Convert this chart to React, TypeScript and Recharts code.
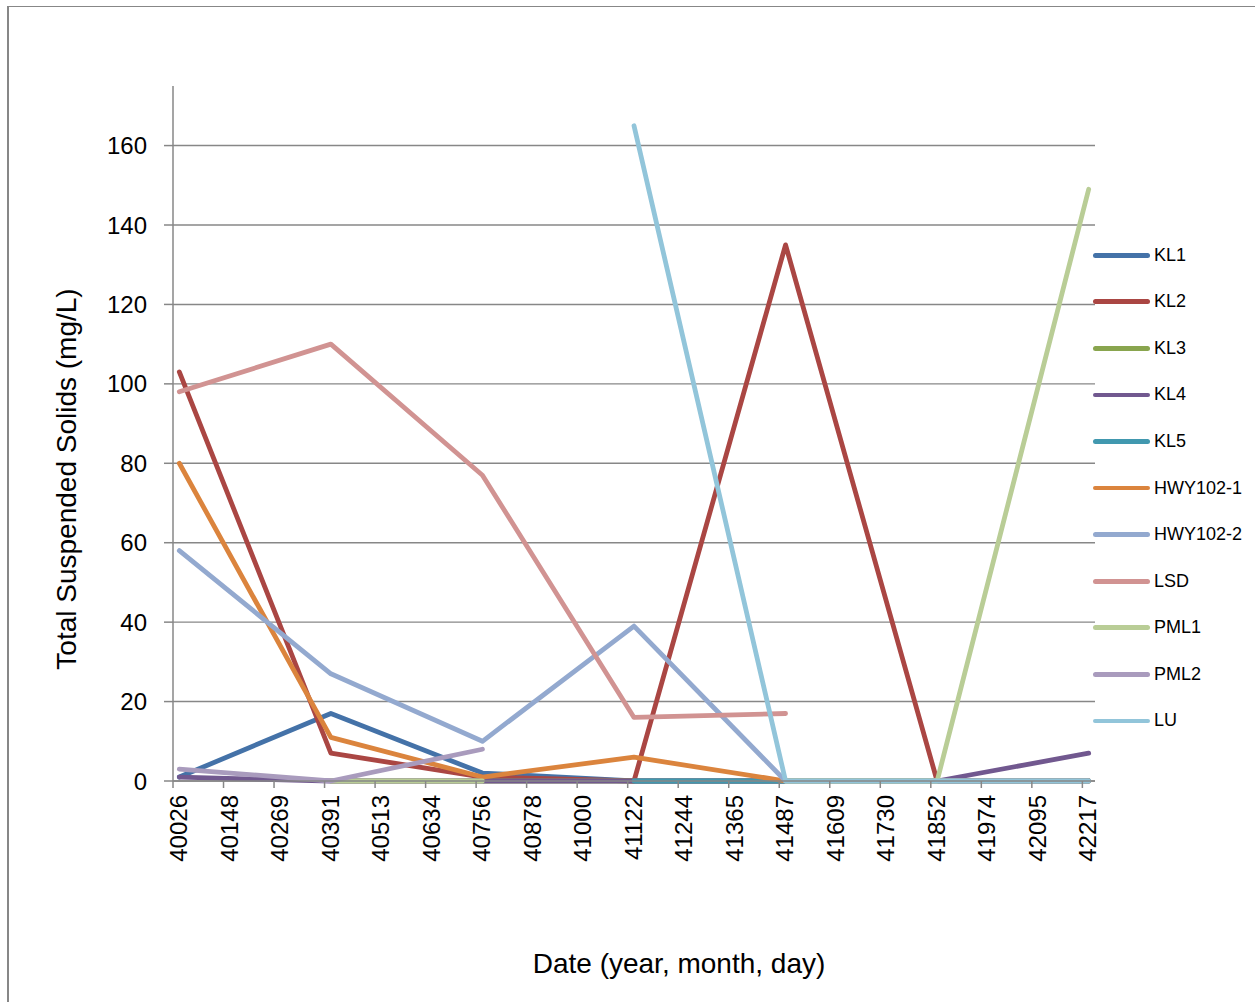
import React from 'react';
import { LineChart, Line, XAxis, YAxis, CartesianGrid } from 'recharts';

// Sampling dates as spreadsheet date serials
const sampleDates = [40026, 40391, 40756, 41122, 41487, 41852, 42217];

// Date axis tick labels (first day of every fourth month)
const dateTickLabels = [
  40026, 40148, 40269, 40391, 40513, 40634, 40756, 40878, 41000, 41122,
  41244, 41365, 41487, 41609, 41730, 41852, 41974, 42095, 42217,
];

const tssTicks = [0, 20, 40, 60, 80, 100, 120, 140, 160];

// Total suspended solids (mg/L) per station, one value per sampling date
const kl1 = [1, 17, 2, 0, 0, 0, 0];
const kl2 = [103, 7, 1, 0, 135, 0, 0];
const kl3 = [null, 0, 0, 0, 0, 0, 0];
const kl4 = [1, 0, 0, 0, 0, 0, 7];
const kl5 = [null, null, null, 0, 0, 0, 0];
const hwy1021 = [80, 11, 1, 6, 0, 0, 0];
const hwy1022 = [58, 27, 10, 39, 0, 0, 0];
const lsd = [98, 110, 77, 16, 17, null, null];
const pml1 = [null, 0, 0, null, 0, 0, 149];
const pml2 = [3, 0, 8, null, null, null, null];
const lu = [null, null, null, 165, 0, 0, 0];

const stations = ['KL1', 'KL2', 'KL3', 'KL4', 'KL5', 'HWY102-1', 'HWY102-2', 'LSD', 'PML1', 'PML2', 'LU'];
const stationValues = [kl1, kl2, kl3, kl4, kl5, hwy1021, hwy1022, lsd, pml1, pml2, lu];
const stationColors = [
  '#4472A8', '#AA4643', '#89A54E', '#71588F', '#4198AF', '#DB843D',
  '#93A9CF', '#D19392', '#B9CD96', '#A99BBD', '#92C5DA',
];

const FONT = '"Liberation Sans", Arial, sans-serif';
const AXIS_GRAY = '#878787';

// Spreadsheet serial -> whole months since the first sampling month
const EXCEL_EPOCH = Date.UTC(1899, 11, 30);
const toDate = (serial: number) => new Date(EXCEL_EPOCH + serial * 86400000);
const firstDate = toDate(sampleDates[0]);
const monthIndex = (serial: number) => {
  const d = toDate(serial);
  return (d.getUTCFullYear() - firstDate.getUTCFullYear()) * 12 + d.getUTCMonth() - firstDate.getUTCMonth();
};

// Each sample sits in the middle of its month slot on the date axis
const rows = sampleDates.map((date, i) => {
  const row: Record<string, number | null> = { date, slot: monthIndex(date) + 0.5 };
  stations.forEach((name, s) => {
    row[name] = stationValues[s][i];
  });
  return row;
});

const tickPositions = dateTickLabels.map(monthIndex);
const labelByPosition = new Map(tickPositions.map((p, i) => [p, dateTickLabels[i]]));
const monthSpan = monthIndex(sampleDates[sampleDates.length - 1]) + 1;

const DateTick = (props: any) => {
  const { x, y, payload } = props;
  const ax = x + 14;
  const ay = y + 5;
  return (
    <text
      x={ax}
      y={ay}
      transform={`rotate(-90 ${ax} ${ay})`}
      textAnchor="end"
      fontFamily={FONT}
      fontSize={24}
      fill="#000"
    >
      {labelByPosition.get(payload.value)}
    </text>
  );
};

const Legend = () => (
  <div style={{ position: 'absolute', left: 1093, top: 232, fontFamily: FONT, fontSize: 18, color: '#000' }}>
    {stations.map((name, i) => (
      <div key={name} style={{ display: 'flex', alignItems: 'center', height: 46.57 }}>
        <div style={{ width: 57, height: 4.8, borderRadius: 3, background: stationColors[i], marginRight: 4 }} />
        <span>{name}</span>
      </div>
    ))}
  </div>
);

export default function App() {
  return (
    <div style={{ position: 'absolute', left: 0, top: 0, width: 1255, height: 1002, background: '#fff', overflow: 'hidden' }}>
      <div
        style={{
          position: 'absolute', left: 7, top: 6, width: 1248, height: 996, boxSizing: 'border-box',
          borderLeft: `2px solid ${AXIS_GRAY}`, borderTop: `1px solid ${AXIS_GRAY}`,
        }}
      />
      <LineChart
        width={1255}
        height={1002}
        data={rows}
        margin={{ top: 86, right: 160, bottom: 141, left: 113 }}
        style={{ position: 'absolute', left: 0, top: 0 }}
      >
        <CartesianGrid vertical={false} horizontalValues={tssTicks} stroke={AXIS_GRAY} strokeWidth={1.4} />
        <XAxis
          type="number"
          dataKey="slot"
          domain={[0, monthSpan]}
          ticks={tickPositions}
          interval={0}
          height={80}
          tickSize={7}
          tick={<DateTick />}
          axisLine={{ stroke: AXIS_GRAY, strokeWidth: 1.5 }}
          tickLine={{ stroke: AXIS_GRAY, strokeWidth: 1.5 }}
          label={{
            content: () => (
              <text x={679} y={973} textAnchor="middle" fontFamily={FONT} fontSize={28} fill="#000">
                Date (year, month, day)
              </text>
            ),
          }}
        />
        <YAxis
          type="number"
          domain={[0, 175]}
          ticks={tssTicks}
          interval={0}
          width={60}
          tickSize={9}
          tickMargin={17}
          tick={{ fontFamily: FONT, fontSize: 24, fill: '#000' }}
          axisLine={{ stroke: AXIS_GRAY, strokeWidth: 1.5 }}
          tickLine={{ stroke: AXIS_GRAY, strokeWidth: 1.5 }}
          label={{
            content: () => (
              <text
                x={76}
                y={479}
                transform="rotate(-90 76 479)"
                textAnchor="middle"
                fontFamily={FONT}
                fontSize={28}
                fill="#000"
              >
                Total Suspended Solids (mg/L)
              </text>
            ),
          }}
        />
        {stations.map((name, i) => (
          <Line
            key={name}
            type="linear"
            dataKey={name}
            stroke={stationColors[i]}
            strokeWidth={4.8}
            strokeLinecap="round"
            strokeLinejoin="round"
            dot={false}
            activeDot={false}
            connectNulls={false}
            isAnimationActive={false}
          />
        ))}
      </LineChart>
      <Legend />
    </div>
  );
}
